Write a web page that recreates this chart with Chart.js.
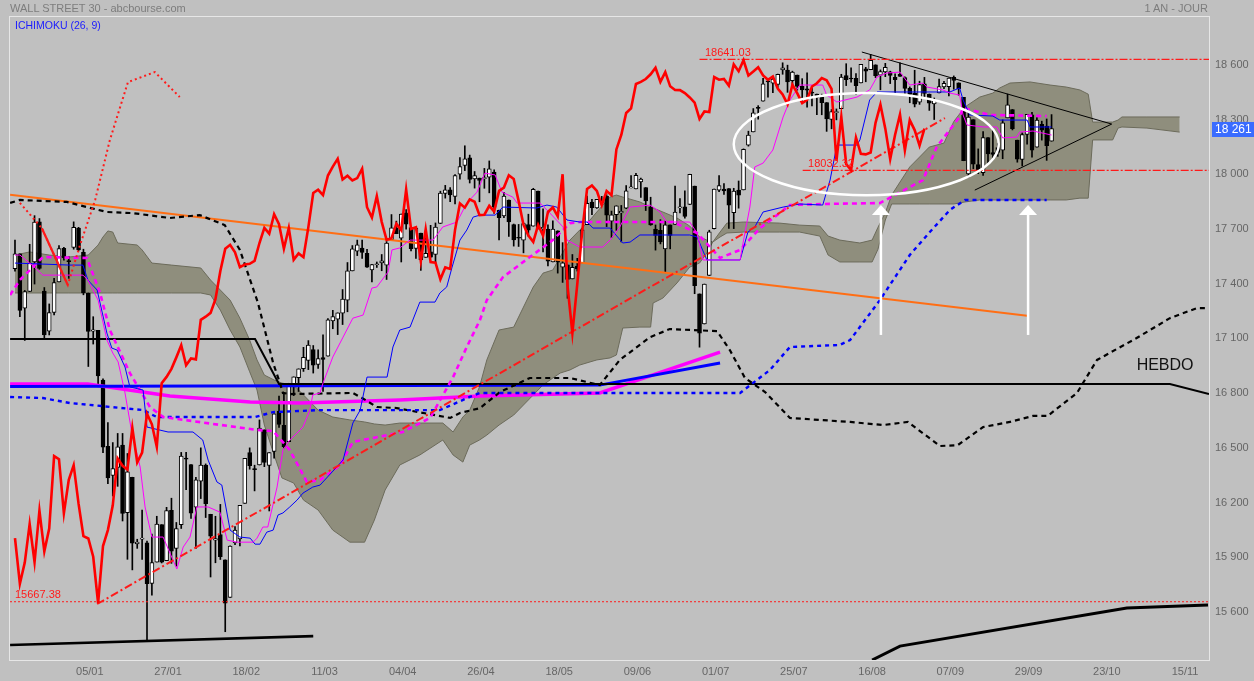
<!DOCTYPE html>
<html>
<head>
<meta charset="utf-8">
<script src="https://cdn.jsdelivr.net/npm/chart.js@4.4.1/dist/chart.umd.min.js"></script>
<style>
  html, body { margin: 0; padding: 0; background: #c0c0c0; }
  #wrap { position: relative; width: 1254px; height: 681px; }
  .txt { position: absolute; white-space: nowrap; font-family: Arial, "Liberation Sans", sans-serif; }
</style>
</head>
<body>
<div id="wrap">
  <canvas id="chart" width="1254" height="681"></canvas>
  <div class="txt" style="left:10px;top:2px;font-size:11px;color:#7d7d7d">WALL STREET 30 - abcbourse.com</div>
  <div class="txt" style="right:46px;top:2px;font-size:11px;color:#7d7d7d">1 AN - JOUR</div>
  <div class="txt" style="left:15px;top:19px;font-size:10.5px;color:#1a1aff">ICHIMOKU (26, 9)</div>
</div>
<script>
// daily candles, one per weekday, index 0 = 10/12/2015, last = 05/10/2016
const opens = [
  17493,17574,17277,17368,17530,17750,17370,17150,17253,17420,
  17605,17538,17610,17716,17583,17360,17150,17155,16883,16520,
  16360,16404,16526,16155,16350,15985,16010,15990,15768,15885,
  16090,15893,16168,15960,16090,16450,16420,16186,16329,16417,
  16147,16005,16035,15897,15691,15990,16012,16207,16485,16393,
  16417,16610,16415,16492,16712,16634,16545,16851,16896,16945,
  16991,17050,16969,17006,17014,17207,17217,17249,17321,17481,
  17589,17606,17577,17487,17515,17525,17512,17652,17717,17661,
  17799,17718,17605,17688,17555,17586,17571,17741,17906,17925,
  17890,18012,18060,18101,17985,17990,17987,17995,18023,17813,
  17783,17870,17735,17664,17650,17735,17726,17919,17712,17711,
  17531,17701,17501,17514,17437,17507,17525,17735,17859,17826,
  17870,17891,17754,17790,17799,17825,17936,17931,17969,17938,
  17830,17710,17703,17602,17733,17736,17827,17832,17845,17946,
  17355,17190,17456,17712,17924,17930,17932,17800,17924,17925,
  18170,18243,18373,18412,18520,18510,18503,18583,18582,18524,
  18554,18493,18479,18458,18451,18434,18404,18312,18349,18370,
  18552,18535,18537,18511,18589,18584,18611,18554,18572,18573,
  18542,18559,18541,18482,18456,18406,18506,18451,18396,18457,
  18490,18491,18542,18512,18432,18013,18310,18064,18020,18212,
  18130,18157,18143,18320,18366,18198,18092,18229,18337,18159,
  18285,18275,18192
];
const highs = [
  17650,17574,17374,17627,17784,17768,17390,17300,17440,17620,
  17610,17560,17750,17720,17600,17360,17230,17155,16890,16650,
  16540,16590,16590,16480,16350,16010,16170,16000,16038,16136,
  16090,16185,16235,16102,16486,16486,16420,16350,16511,16423,
  16147,16136,16201,15897,15974,16080,16196,16453,16511,16416,
  16664,16610,16485,16698,16795,16810,16865,16900,16944,17062,
  17099,17072,17048,17130,17220,17265,17251,17379,17527,17620,
  17650,17650,17600,17517,17530,17571,17642,17790,17754,17793,
  17817,17718,17716,17688,17703,17731,17744,17918,17950,17938,
  18009,18103,18167,18116,18026,17990,18043,18084,18035,17814,
  17912,17870,17738,17736,17744,17792,17934,17919,17821,17734,
  17755,17701,17636,17514,17571,17550,17714,17891,17873,17873,
  17890,17899,17809,17838,17840,17949,18003,18016,17990,17938,
  17885,17733,17762,17754,17733,17946,17877,17920,18011,17946,
  17355,17409,17704,17930,18003,17960,17932,17934,17974,18150,
  18247,18371,18387,18537,18537,18544,18560,18622,18609,18576,
  18555,18535,18567,18484,18451,18450,18404,18366,18369,18559,
  18617,18594,18563,18613,18597,18668,18611,18583,18619,18576,
  18561,18622,18545,18490,18581,18521,18542,18451,18429,18532,
  18520,18538,18550,18512,18432,18358,18310,18150,18245,18212,
  18252,18181,18309,18450,18366,18198,18238,18339,18350,18322,
  18302,18314,18338
];
const lows = [
  17480,17230,17100,17368,17409,17490,17110,17130,17240,17420,
  17540,17440,17600,17590,17350,16957,17080,16850,16484,16314,
  16247,16300,16110,15900,15842,15960,15900,15451,15704,15885,
  15880,15893,15878,15863,16069,16282,16124,15960,16233,16129,
  15803,15881,15899,15503,15691,15980,15974,16207,16394,16275,
  16417,16408,16165,16454,16623,16511,16545,16797,16820,16930,
  16940,16921,16947,16821,17014,17164,17132,17187,17257,17481,
  17565,17550,17500,17420,17500,17482,17434,17652,17685,17530,
  17710,17590,17550,17484,17555,17553,17525,17741,17880,17860,
  17848,17984,18031,17963,17935,17860,17934,17909,17796,17651,
  17773,17670,17617,17615,17580,17672,17726,17711,17585,17508,
  17531,17469,17418,17331,17437,17480,17525,17735,17790,17824,
  17850,17724,17664,17703,17640,17822,17936,17931,17884,17812,
  17731,17595,17629,17471,17602,17736,17799,17770,17844,17356,
  17063,17190,17456,17711,17916,17900,17714,17713,17825,17925,
  18165,18243,18313,18412,18434,18458,18487,18559,18460,18489,
  18472,18407,18379,18385,18337,18337,18246,18260,18309,18370,
  18497,18516,18449,18511,18518,18584,18541,18474,18546,18508,
  18459,18547,18456,18403,18380,18394,18426,18361,18311,18457,
  18480,18441,18477,18444,18085,17993,18041,18014,18005,18070,
  18101,18109,18096,18320,18254,18077,18056,18176,18104,18159,
  18198,18087,18192
];
const closes = [
  17575,17265,17368,17524,17749,17495,17130,17252,17417,17603,
  17552,17532,17720,17596,17360,17149,17158,16906,16515,16346,
  16398,16516,16152,16379,15988,15995,16016,15766,15882,16093,
  15885,16167,15944,16069,16466,16449,16153,16336,16416,16205,
  16027,16014,15914,15660,15973,16060,16196,16453,16413,16392,
  16620,16431,16485,16698,16640,16517,16865,16900,16944,17007,
  17074,16964,17001,16996,17213,17230,17251,17326,17481,17602,
  17624,17583,17502,17516,17520,17536,17634,17717,17685,17792,
  17737,17603,17716,17542,17577,17556,17721,17908,17926,17897,
  18004,18053,18096,17982,18003,17977,17990,18041,17830,17773,
  17891,17750,17651,17660,17740,17705,17928,17711,17720,17535,
  17710,17529,17526,17435,17500,17492,17706,17851,17828,17873,
  17860,17787,17789,17838,17807,17920,17938,18005,17985,17865,
  17733,17675,17640,17733,17675,17804,17829,17780,18011,17400,
  17140,17409,17695,17930,17949,17920,17841,17919,17896,18147,
  18226,18347,18372,18506,18517,18533,18559,18595,18517,18571,
  18493,18473,18472,18456,18432,18404,18314,18355,18352,18544,
  18529,18533,18496,18613,18576,18636,18552,18574,18597,18553,
  18529,18547,18481,18448,18395,18502,18454,18401,18419,18492,
  18510,18538,18526,18479,18085,18325,18066,18034,18212,18123,
  18120,18130,18293,18392,18261,18094,18228,18339,18143,18308,
  18253,18168,18261
];

// x axis: bar index, date labels every 16 bars
const tickIdx = [16, 32, 48, 64, 80, 96, 112, 128, 144, 160, 176, 192, 208, 224, 240];
const tickLabels = ['05/01','27/01','18/02','11/03','04/04','26/04','18/05','09/06','01/07','25/07','16/08','07/09','29/09','23/10','15/11'];
const yTicks = [15600, 15900, 16200, 16500, 16800, 17100, 17400, 17700, 18000, 18300, 18600];

// ichimoku lines: [bar index, value]
const tenkan = [[0,17568],[1,17568],[3.7,17508],[5.7,17458],[13.9,17458],[14.9,17431],[17,17321],[18.8,17102],[20,17031],[21.1,16982],[22.5,16812],[23.9,16593],[25.6,16406],[26.6,16187],[28,16022],[30.3,16022],[31.7,15934],[33.1,15847],[34.4,15967],[35.8,16022],[37.2,16187],[39.5,16187],[41.9,16159],[43.4,16005],[45.4,15994],[48.7,15994],[49.5,16016],[50.7,16077],[51.7,16077],[53.6,16296],[54.8,16499],[56.2,16554],[57.7,16593],[58.9,16625],[60.3,16718],[60.9,16801],[62.4,16812],[63,16866],[65,17009],[67.1,17118],[69.1,17222],[71.2,17239],[73,17387],[74,17393],[76.3,17475],[77.1,17596],[78.7,17607],[80.8,17650],[85.5,17650],[87.5,17722],[90.4,17749],[92.4,17853],[94.5,17913],[96.1,18017],[98.2,18007],[99.6,17913],[101.8,17886],[102.7,17853],[107.4,17853],[109.4,17798],[112.1,17722],[112.9,17650],[115.5,17612],[120.2,17612],[121.7,17650],[123.7,17722],[125.8,17831],[129.9,17842],[131.9,17804],[133.3,17749],[138,17749],[139.5,17689],[140.7,17541],[148.3,17541],[148.9,17634],[150.3,17831],[151.3,18051],[153,18072],[155,18144],[157.1,18325],[158.5,18418],[160.5,18500],[165.2,18500],[166,18445],[168.1,18407],[172.2,18434],[174.8,18473],[176.3,18544],[178.3,18566],[181,18571],[183,18500],[185.7,18511],[186.5,18489],[189.8,18473],[191.2,18456],[193.2,18445],[193.9,18336],[194.7,18281],[198,18270],[200.8,18270],[202,18210],[204.9,18215],[205.5,18242],[208.2,18248],[212,18226]];
const kijun = [[0,17524],[11.2,17513],[13.9,17513],[14.9,17431],[16.8,17376],[18.8,17140],[19.8,17058],[20.9,17047],[22.5,16954],[23.5,16845],[26.2,16828],[27,16625],[31.3,16598],[36.4,16598],[38.4,16554],[39.5,16444],[41.3,16324],[42.3,16307],[44,16060],[46,16022],[48.1,16016],[49.1,15983],[50.1,15983],[51.5,16049],[52.8,16060],[53.8,16143],[54.8,16154],[56.2,16187],[57.7,16225],[58.9,16263],[60.9,16296],[62.4,16307],[67.1,16444],[69.1,16647],[70.6,16718],[72,16899],[76.1,16899],[77.3,17064],[78.7,17157],[80.8,17173],[82.8,17310],[85.9,17310],[86.9,17360],[88.3,17393],[89.4,17502],[91,17650],[92.4,17705],[93.7,17776],[95.1,17787],[98.2,17787],[99.8,17831],[106.7,17826],[108.8,17842],[110.8,17831],[112.9,17760],[115.5,17749],[117,17749],[118.2,17716],[121.7,17716],[124.3,17634],[125.8,17639],[127.8,17678],[138,17678],[139.5,17667],[141.5,17541],[148.3,17541],[149.9,17694],[151.3,17722],[153,17804],[157.1,17831],[160.5,17848],[165.2,17842],[166.7,17979],[168.1,18171],[172.2,18171],[172.8,18199],[174.8,18418],[176.3,18462],[191.2,18462],[193.2,18484],[193.9,18418],[195.3,18336],[200,18330],[201.4,18308],[207,18308],[207.6,18270],[212,18270]];
// cloud: [bar index, upper edge, lower edge]
const cloudSpans = [[0,17568,17360],[3,17585,17360],[7,17568,17360],[11,17557,17360],[15,17568,17360],[17,17623,17360],[18,17667,17360],[19,17700,17360],[20,17694,17360],[21,17634,17360],[25,17623,17360],[26,17596,17360],[28,17524,17360],[32,17513,17360],[38,17497,17360],[40,17431,17349],[42,17376,17266],[44,17321,17157],[46,17222,17064],[48,17102,16928],[49.5,16993,16828],[51,16910,16636],[53,16883,16472],[54.6,16866,16346],[57,16855,16318],[59,16801,16225],[62,16718,16170],[65,16680,16060],[68.5,16664,15994],[71.5,16653,15994],[73.5,16642,16115],[75.7,16636,16280],[78.7,16647,16417],[82.8,16647,16472],[87.5,16647,16554],[89.6,16598,16472],[91.6,16680,16433],[93,16718,16526],[95,16845,16554],[96.5,16993,16581],[99,17157,16636],[102,17173,16691],[104,17283,16746],[106,17393,16801],[108,17469,16856],[110,17486,16894],[111.5,17557,16921],[113.5,17650,16938],[115.5,17705,16965],[117.6,17760,16982],[119,17804,16993],[121.7,17886,17004],[123,17897,17020],[124.3,17886,17168],[127.8,17859,17173],[130,17831,17173],[130.5,17826,17305],[132.5,17804,17332],[135.4,17771,17415],[138,17727,17502],[140,17667,17524],[141.5,17650,17579],[142.7,17639,17639],[144.2,17694,17667],[145.6,17743,17689],[149,17749,17694],[156.4,17743,17694],[160.5,17732,17694],[164.6,17727,17672],[166.3,17672,17568],[168.7,17650,17530],[172.8,17634,17530],[175.3,17650,17530],[176.5,17720,17600],[178,17800,17760],[179.3,17897,17848],[181,17968,17848],[183,18051,17848],[185,18105,17848],[187,18160,17848],[190,18182,17848],[192,18300,17848],[194.3,18380,17859],[197.3,18434,17870],[200,18456,17870],[201.4,18484,17870],[203.5,18511,17870],[207.6,18517,17870],[211.7,18500,17870],[215,18489,17870],[217.8,18473,17880],[219.5,18450,17880],[220.4,18297,18199],[224.5,18297,18199],[225.6,18308,18264],[226.4,18325,18270],[231.5,18325,18264],[238.2,18325,18242]];
const chikouShift = 26;

// weekly ichimoku (HEBDO) and drawn lines
const weekMagentaDash = [[-1,17349],[1,17431],[5.7,17557],[14.7,17552],[17.4,17360],[19.4,17157],[23.5,16921],[27.6,16735],[30.3,16680],[49.5,16609],[52.8,16603],[56.2,16499],[59.7,16324],[62.4,16335],[66.5,16417],[69.1,16543],[79.3,16598],[84.9,16675],[89.6,16899],[92.4,17064],[95.1,17212],[96.5,17321],[99.8,17447],[105.3,17557],[110,17650],[113.5,17743],[115.5,17749],[134.6,17749],[139.5,17689],[144.2,17552],[148.3,17596],[152.4,17716],[158.5,17842],[165.2,17848],[176.9,17853],[185.7,17979],[188.5,18160],[193.2,18325],[193.9,18374],[199.4,18336],[211,18330]];
const weekBlueDash = [[-1,16790],[5.7,16784],[11.2,16757],[26.2,16718],[29,16680],[49.1,16680],[52.8,16707],[62.4,16718],[86.9,16718],[93,16790],[95.1,16812],[148.3,16812],[154.4,16938],[158.5,17064],[168.7,17075],[170.8,17102],[176.9,17321],[179.6,17431],[183,17568],[187.1,17694],[191.2,17815],[194.3,17870],[211,17870]];
const weekBlackDash = [[-1,17854],[1,17870],[10.6,17859],[14.7,17831],[18.8,17804],[24.1,17798],[31.7,17771],[37.8,17787],[42.9,17732],[46,17596],[48.1,17431],[49.7,17305],[51.1,17157],[52.8,16976],[54.2,16866],[54.8,16812],[56.2,16806],[69.1,16812],[71,16784],[74,16735],[78.1,16729],[89,16675],[91,16702],[95.1,16729],[99.2,16817],[105.3,16894],[113.5,16894],[119.6,16855],[123.7,16993],[129.9,17118],[133.9,17162],[143.6,17151],[146.2,17047],[149.3,16894],[153.4,16817],[158.5,16675],[170.8,16653],[177.5,16636],[182.6,16653],[189.2,16521],[192.8,16526],[198,16625],[203.5,16653],[208.2,16686],[211.2,16686],[217.2,16812],[221.3,16993],[229.4,17113],[236.2,17222],[241.7,17277],[244,17277]];
const weekBlack = [[-1,17108],[49.1,17108],[54,16861],[236.2,16861],[244.2,16806]];
const weekBlue = [[-1,16848],[119.6,16855],[144.2,16976]];
const weekMagenta = [[-1,16861],[14.9,16861],[31.7,16795],[48.1,16762],[58.3,16757],[78.7,16773],[95.1,16795],[119.6,16812],[144.2,17036]];
const weekRedDots = [[1,17854],[5.5,17715],[10.8,17404],[13.3,17623],[16.4,17870],[19.4,18198],[23.1,18516],[28.6,18571],[33.7,18434]];
const weekRedSolid = [[5.5,17715],[10.8,17404]];
const orangeLine = [[-1,17898],[207,17235]];
const redTrend = [[16.8,15655],[190.2,18319]];
const triangleTop = [[173.2,18681],[224.3,18286]];
const triangleBottom = [[196.3,17924],[224.3,18286]];
const supportLow = [[-1,15430],[61,15479]];
const supportHebdo = [[175.3,15348],[181,15424],[227.4,15633],[244,15649]];
const levelHigh = 18641.03, levelMid = 18032.32, levelLow = 15667.38;
const levelNotes = [[141.1, levelHigh], [162.2, levelMid], [0, levelLow]];
const ellipse = { idx: 174.1, value: 18176, idxSpan: 27.1, valueSpan: 280 };
const arrowIdx = [177.1, 207.2];
const arrowFrom = 17130, arrowTo = 17842;
const hebdoAt = [229.4, 16960];

const xMin = -1.02, xMax = 244.2;

const fmt = v => String(Math.round(v)).replace(/\B(?=(\d{3})+(?!\d))/g, ' ');
const pts = arr => arr.map(([x, y]) => ({ x, y }));
function line(data, color, width, dash, order) {
  return { type: 'line', data: pts(data), borderColor: color, borderWidth: width,
    borderDash: dash || [], pointRadius: 0, fill: false, tension: 0, order: order };
}

const bars = closes.map((c, i) => i);
const chikou = closes.slice(chikouShift).map((c, k) => ({ x: k, y: c }));

const markup = {
  id: 'markup',
  beforeDraw(chart) {
    const ctx = chart.ctx;
    ctx.save();
    ctx.fillStyle = '#c0c0c0';
    ctx.fillRect(0, 0, chart.width, chart.height);
    ctx.restore();
  },
  afterDatasetsDraw(chart) {
    const { ctx, chartArea: a, scales: { x, y } } = chart;
    ctx.save();
    ctx.beginPath();
    ctx.rect(a.left, a.top, a.right - a.left, a.bottom - a.top);
    ctx.clip();
    // white ellipse
    const cx = x.getPixelForValue(ellipse.idx), cy = y.getPixelForValue(ellipse.value);
    const rx = x.getPixelForValue(ellipse.idx + ellipse.idxSpan) - cx;
    const ry = y.getPixelForValue(ellipse.value - ellipse.valueSpan) - cy;
    ctx.strokeStyle = '#ffffff';
    ctx.lineWidth = 2.5;
    ctx.beginPath();
    ctx.ellipse(cx, cy, rx, ry, 0, 0, Math.PI * 2);
    ctx.stroke();
    // white arrows
    arrowIdx.forEach(i => {
      const px = x.getPixelForValue(i), y0 = y.getPixelForValue(arrowFrom), y1 = y.getPixelForValue(arrowTo);
      ctx.lineWidth = 2.5;
      ctx.beginPath(); ctx.moveTo(px, y0); ctx.lineTo(px, y1 + 8); ctx.stroke();
      ctx.fillStyle = '#ffffff';
      ctx.beginPath(); ctx.moveTo(px, y1); ctx.lineTo(px - 9, y1 + 10); ctx.lineTo(px + 9, y1 + 10); ctx.closePath(); ctx.fill();
    });
    // level labels
    ctx.font = '11px Arial, "Liberation Sans", sans-serif';
    ctx.fillStyle = '#ff1a1a';
    ctx.textBaseline = 'bottom';
    levelNotes.forEach(([i, v]) => ctx.fillText(v.toFixed(2), x.getPixelForValue(i), y.getPixelForValue(v) - 1));
    ctx.font = '16px Arial, "Liberation Sans", sans-serif';
    ctx.fillStyle = '#111111';
    ctx.textBaseline = 'middle';
    ctx.fillText('HEBDO', x.getPixelForValue(hebdoAt[0]), y.getPixelForValue(hebdoAt[1]));
    ctx.restore();
  },
  afterDraw(chart) {
    const { ctx, chartArea: a, scales: { y } } = chart;
    ctx.save();
    ctx.strokeStyle = '#e6e6e6';
    ctx.lineWidth = 1;
    ctx.strokeRect(a.left - 0.5, a.top - 0.5, a.right - a.left + 1, a.bottom - a.top + 1);
    const last = closes[closes.length - 1];
    const py = y.getPixelForValue(last);
    ctx.fillStyle = '#3a6cff';
    ctx.fillRect(a.right + 3, Math.round(py) - 7, 45, 15);
    ctx.fillStyle = '#ffffff';
    ctx.font = '12px Arial, "Liberation Sans", sans-serif';
    ctx.textBaseline = 'middle';
    ctx.fillText(fmt(last), a.right + 6, Math.round(py) + 1);
    ctx.restore();
  }
};

Chart.defaults.font.family = 'Arial, "Liberation Sans", sans-serif';

new Chart(document.getElementById('chart'), {
  type: 'bar',
  data: {
    datasets: [
      line(chikou.map(p => [p.x, p.y]), '#ff0000', 2.6, [], 1),
      line(weekRedDots, '#ff1a1a', 2, [2, 3], 2),
      line(weekRedSolid, '#ff1a1a', 2.2, [], 2),
      line(redTrend, '#ff1a1a', 2, [8, 3, 2, 3], 3),
      line([[140, levelHigh], [xMax, levelHigh]], '#ff1a1a', 1.3, [8, 2, 2, 2], 4),
      line([[161.1, levelMid], [xMax, levelMid]], '#ff1a1a', 1.3, [8, 2, 2, 2], 4),
      line([[xMin, levelLow], [xMax, levelLow]], '#ff1a1a', 1, [2, 2], 4),
      line(tenkan, '#ff00ff', 1, [], 6),
      line(kijun, '#0000ff', 1, [], 7),
      line(weekMagentaDash, '#ff00ff', 2.6, [5, 4], 8),
      line(weekBlueDash, '#0000ff', 2.4, [4, 4], 9),
      line(weekBlackDash, '#000000', 2.2, [5, 4], 10),
      line(weekBlack, '#000000', 2, [], 11),
      line(weekBlue, '#0000ff', 3, [], 12),
      line(weekMagenta, '#ff00ff', 3.5, [], 13),
      line(orangeLine, '#ff6e14', 2, [], 14),
      line(triangleTop, '#000000', 1, [], 15),
      line(triangleBottom, '#000000', 1, [], 15),
      line(supportLow, '#000000', 2.6, [], 16),
      line(supportHebdo, '#000000', 3, [], 16),
      {
        type: 'bar',
        data: bars.map(i => ({ x: i, y: [opens[i], closes[i]] })),
        backgroundColor: bars.map(i => closes[i] >= opens[i] ? '#ffffff' : '#000000'),
        borderColor: '#000000', borderWidth: 1, borderSkipped: false,
        barThickness: 4, minBarLength: 1, grouped: false, order: 40
      },
      {
        type: 'bar',
        data: bars.map(i => ({ x: i, y: [lows[i], highs[i]] })),
        backgroundColor: '#000000', barThickness: 1, grouped: false, order: 41
      },
      {
        type: 'line',
        data: cloudSpans.map(r => ({ x: r[0], y: r[1] })),
        borderColor: '#6c6b5b', borderWidth: 1, pointRadius: 0, fill: false, tension: 0, order: 60
      },
      {
        type: 'line',
        data: cloudSpans.map(r => ({ x: r[0], y: r[2] })),
        borderColor: '#6c6b5b', borderWidth: 1, pointRadius: 0, tension: 0,
        fill: '-1', backgroundColor: 'rgb(143,142,125)', order: 61
      }
    ]
  },
  options: {
    responsive: false,
    maintainAspectRatio: false,
    animation: false,
    devicePixelRatio: 1,
    layout: { padding: { left: 10, top: 17, right: 0, bottom: 0 } },
    plugins: { legend: { display: false }, tooltip: { enabled: false }, title: { display: false } },
    scales: {
      x: {
        type: 'linear', position: 'bottom', min: xMin, max: xMax, offset: false,
        grid: { display: false, drawTicks: false }, border: { display: false },
        afterBuildTicks: s => { s.ticks = tickIdx.map(v => ({ value: v - 0.7 })); },
        afterFit: s => { s.height = 21; },
        ticks: {
          autoSkip: false, maxRotation: 0, padding: 5, color: '#666666',
          font: { size: 11 },
          callback: (v, i) => tickLabels[i]
        }
      },
      y: {
        type: 'linear', position: 'right', min: 15348, max: 18873,
        grid: { display: false, drawTicks: false }, border: { display: false },
        afterBuildTicks: s => { s.ticks = yTicks.map(v => ({ value: v })); },
        afterFit: s => { s.width = 45; },
        ticks: { padding: 6, color: '#666666', font: { size: 11 }, labelOffset: -2, callback: v => fmt(v) }
      }
    }
  },
  plugins: [markup]
});
</script>
</body>
</html>
